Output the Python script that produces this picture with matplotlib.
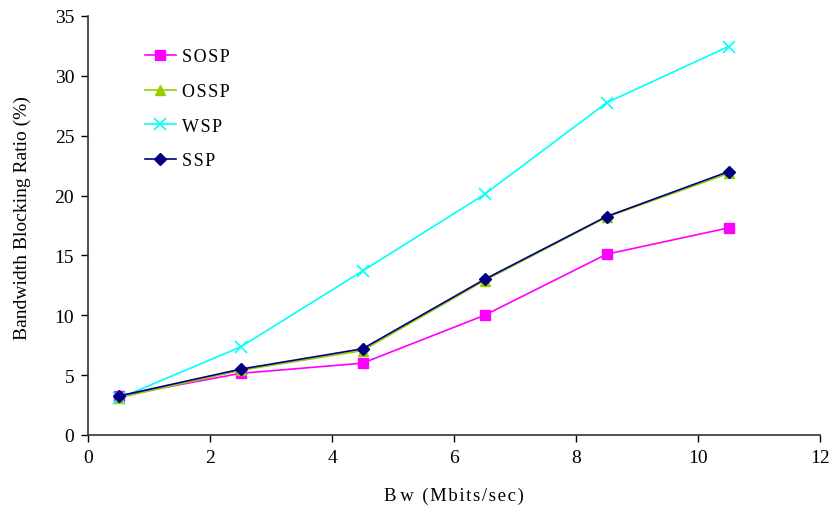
import matplotlib.pyplot as plt

# Bandwidth blocking ratio vs. requested bandwidth
bw = [0.5, 2.5, 4.5, 6.5, 8.5, 10.5]
sosp = [3.25, 5.15, 6.0, 10.0, 15.1, 17.3]
ossp = [3.1, 5.4, 7.05, 12.9, 18.2, 21.85]
wsp = [3.05, 7.35, 13.7, 20.1, 27.75, 32.45]
ssp = [3.25, 5.5, 7.2, 13.0, 18.25, 22.0]

names = ['SOSP', 'OSSP', 'WSP', 'SSP']

plt.rcParams['font.family'] = ['Liberation Serif', 'DejaVu Serif']


def spaced(s, gap='\u200a'):
    # loose letter spacing like the original typesetting
    return gap.join(s)


fig = plt.figure(figsize=(8.32, 5.10), dpi=100)
ax = fig.add_axes([0.1058, 0.1451, 0.8798, 0.8216])

ax.plot(bw, sosp, color='#FF00FF', marker='s', markersize=7, linewidth=1.2, label=spaced(names[0]))
ax.plot(bw, ossp, color='#99CC00', marker='^', markersize=7, linewidth=1.2, label=spaced(names[1]))
ax.plot(bw, wsp, color='#00FFFF', marker='x', markersize=8, markeredgewidth=1.2,
        linewidth=1.2, label=spaced(names[2]))
ax.plot(bw, ssp, color='#000080', marker='D', markersize=6.5, linewidth=1.2, label=spaced(names[3]))

ax.set_xlim(0, 12)
ax.set_ylim(0, 35)
ax.set_xticks(range(0, 13, 2))
ax.set_yticks(range(0, 36, 5))
ax.tick_params(direction='out', length=5, width=1, labelsize=14, colors='black', pad=5)

for side in ['top', 'right']:
    ax.spines[side].set_visible(False)
for side in ['left', 'bottom']:
    ax.spines[side].set_linewidth(1.2)
    ax.spines[side].set_color('#333333')

ax.set_xlabel('B\u2009w\u2009 ' + spaced('(Mbits/sec)'), fontsize=13.5, labelpad=15)
ax.set_ylabel('Bandwidth Blocking Ratio (%)', fontsize=14)
ax.yaxis.set_label_coords(-0.078, 0.52)

leg = ax.legend(loc='upper left', bbox_to_anchor=(0.055, 0.962), frameon=False,
                fontsize=13, labelspacing=0.98, handlelength=1.75, handletextpad=0.35)

fig.savefig('out.png', dpi=100)
